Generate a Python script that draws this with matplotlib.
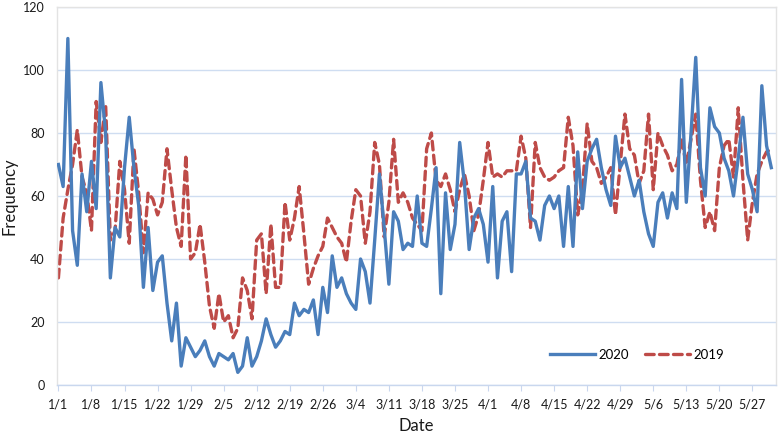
import matplotlib
matplotlib.use("Agg")
import matplotlib.pyplot as plt
import numpy as np

# ---- data ----
tick_labels = ["1/1", "1/8", "1/15", "1/22", "1/29", "2/5", "2/12", "2/19", "2/26",
               "3/4", "3/11", "3/18", "3/25", "4/1", "4/8", "4/15", "4/22", "4/29",
               "5/6", "5/13", "5/20", "5/27"]

freq_2020 = [70, 63, 110, 49, 38, 67, 55, 71, 56, 96,
             80, 34, 50, 47, 69, 85, 69, 57, 31, 50,
             30, 39, 41, 26, 14, 26, 6, 15, 12, 9,
             11, 14, 9, 6, 10, 9, 8, 10, 4, 6,
             15, 6, 9, 14, 21, 16, 12, 14, 17, 16,
             26, 22, 24, 23, 27, 16, 31, 23, 41, 31,
             34, 29, 26, 24, 40, 36, 26, 46, 67, 50,
             32, 55, 52, 43, 45, 44, 60, 45, 44, 56,
             69, 29, 61, 43, 51, 77, 64, 43, 53, 56,
             51, 39, 63, 34, 52, 55, 36, 67, 67, 71,
             53, 52, 46, 57, 60, 56, 60, 44, 63, 44,
             74, 56, 71, 75, 78, 69, 62, 57, 79, 69,
             72, 66, 60, 65, 55, 48, 44, 58, 61, 53,
             61, 56, 97, 58, 80, 104, 69, 60, 88, 82,
             80, 72, 68, 60, 72, 85, 67, 62, 55, 95,
             76, 69]

freq_2019 = [34, 53, 62, 70, 81, 66, 61, 49, 90, 77,
             89, 46, 49, 71, 62, 45, 75, 61, 42, 61,
             59, 54, 58, 75, 62, 50, 44, 73, 40, 42,
             51, 39, 25, 18, 29, 20, 22, 15, 18, 34,
             30, 21, 46, 48, 29, 51, 31, 31, 58, 46,
             53, 63, 48, 32, 37, 41, 44, 53, 50, 47,
             45, 39, 52, 62, 60, 45, 55, 77, 70, 47,
             58, 78, 58, 61, 58, 53, 51, 49, 75, 80,
             65, 63, 67, 62, 55, 62, 67, 60, 49, 54,
             65, 77, 66, 67, 66, 68, 68, 68, 79, 72,
             50, 77, 69, 66, 65, 66, 68, 69, 85, 76,
             54, 62, 83, 71, 69, 64, 66, 69, 54, 70,
             86, 75, 73, 64, 68, 86, 62, 80, 76, 73,
             68, 70, 78, 70, 78, 86, 65, 50, 55, 49,
             69, 76, 78, 66, 88, 65, 46, 58, 67, 71,
             74, 75]

series_labels = ["2020", "2019"]

# ---- plot ----
plt.rcParams['font.family'] = ['Lato', 'DejaVu Sans']
fig = plt.figure(figsize=(7.78, 4.38), dpi=100)
ax = fig.add_axes([57/778, 1 - 385/438, 719/778, 378/438])

days = np.arange(len(freq_2020))
ax.plot(days, freq_2020, color='#4A7EBB', lw=2.4, solid_joinstyle='round',
        label=series_labels[0], zorder=3)
ax.plot(np.arange(len(freq_2019)), freq_2019, color='#BE4B48', lw=2.4,
        linestyle=(0, (2.6, 1.6)), dash_capstyle='round', label=series_labels[1], zorder=2)

ax.set_xlim(-0.3, 152)
ax.set_ylim(0, 120)
ax.set_yticks(np.arange(0, 121, 20))
ax.set_xticks(np.arange(len(tick_labels)) * 7)
ax.set_xticklabels(tick_labels)

grid_c = '#CFDDF1'
ax.grid(axis='y', color=grid_c, lw=1.0)
ax.set_axisbelow(True)
for s in ['top', 'right', 'left']:
    ax.spines[s].set_color('#E3E3E3')
    ax.spines[s].set_linewidth(1.0)
ax.spines['bottom'].set_color('#C9D7EE')
ax.spines['bottom'].set_linewidth(1.0)

ax.tick_params(axis='x', length=4, color='#C9D7EE', labelsize=9, labelcolor='#1A1A1A', pad=6)
ax.tick_params(axis='y', length=0, labelsize=9, labelcolor='#1A1A1A', pad=9)

ax.set_xlabel("Date", fontsize=12, color='#1A1A1A')
ax.set_ylabel("Frequency", fontsize=12, color='#1A1A1A')
ax.xaxis.set_label_coords(0.5, -(418 - 385) / 378)
ax.yaxis.set_label_coords(-(57 - 18) / 719, 0.5)

ax.legend(loc='center', bbox_to_anchor=((637 - 57) / 719, (385 - 355) / 378),
          ncol=2, frameon=False, handlelength=3.4, columnspacing=1.2,
          handletextpad=0.3, fontsize=9.5)

fig.savefig("out.png", dpi=100, facecolor='white')
